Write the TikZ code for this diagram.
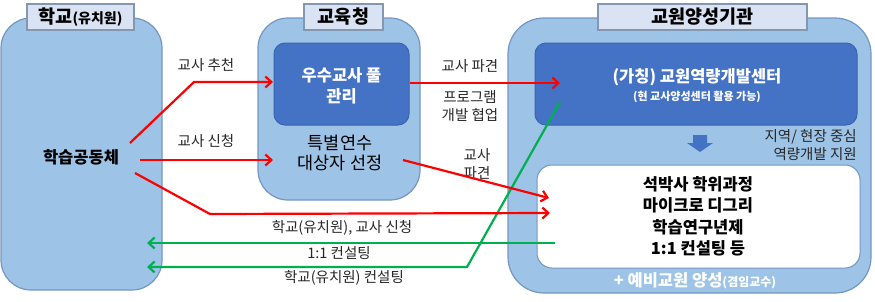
\documentclass[tikz,border=0pt]{standalone}
\usepackage{fontspec}
\setmainfont{Noto Sans CJK KR}
\usetikzlibrary{arrows.meta,calc}
\definecolor{outerblue}{HTML}{9DC3E6}
\definecolor{outerline}{HTML}{7496C2}
\definecolor{titlefill}{HTML}{DAE3F3}
\definecolor{titleline}{HTML}{8497B0}
\definecolor{darkblue}{HTML}{4472C4}
\definecolor{darkline}{HTML}{3A63AE}
\definecolor{redarrow}{HTML}{FF0000}
\definecolor{greenarrow}{HTML}{00B050}
\definecolor{labeltext}{HTML}{262626}
\newcommand{\fs}[1]{\fontsize{#1}{#1}\selectfont}
\tikzset{
  outerbox/.style={draw=outerline, fill=outerblue, line width=1.2pt, rounded corners=30pt, inner sep=0pt},
  titlebox/.style={draw=titleline, fill=titlefill, line width=1.2pt, inner sep=0pt, minimum height=26pt, font=\fs{18.5}\bfseries},
  darkbox/.style={draw=darkline, fill=darkblue, line width=1pt, rounded corners=11pt, inner sep=0pt},
  whitebox/.style={draw=outerline, fill=white, line width=1pt, rounded corners=15pt, inner sep=0pt},
  lbl/.style={text=labeltext, font=\fs{14.5}, inner sep=0pt, align=center},
  redarr/.style={draw=redarrow, line width=2.2pt, -{Straight Barb[length=6pt,width=11pt,line width=2.2pt]}},
  greenarr/.style={draw=greenarrow, line width=2.2pt, -{Straight Barb[length=6pt,width=11pt,line width=2.2pt]}},
}
\begin{document}
\begin{tikzpicture}[x=1pt,y=-1pt]
\useasboundingbox (0,0) rectangle (875,301);
% outer boxes
\node[outerbox, minimum width=161pt, minimum height=272pt] (school) at (81.5,154) {};
\node[outerbox, minimum width=162pt, minimum height=182pt] (office) at (339,109) {};
\node[outerbox, minimum width=363pt, minimum height=275pt, rounded corners=36pt] (inst) at (689.5,155.5) {};
% titles
\node[titlebox, minimum width=107pt] (tschool) at (80.5,17) {학교{\fs{14}(유치원)}};
\node[titlebox, minimum width=79pt] (toffice) at (343.5,17) {교육청};
\node[titlebox, minimum width=209pt] (tinst) at (702.5,17) {교원양성기관};
% inner boxes
\node[darkbox, minimum width=135pt, minimum height=82pt] (pool) at (341.5,84) {};
\node[darkbox, minimum width=322pt, minimum height=82pt] (center) at (696,84) {};
\node[whitebox, minimum width=323pt, minimum height=103pt] (prog) at (698.5,216.5) {};
% texts
\node[font=\fs{16.5}\bfseries, text=black, inner sep=0pt] (lc) at (81,157) {학습공동체};
\node[font=\fs{16.5}\bfseries, text=white, align=center, inner sep=0pt] (pooltxt) at (341.5,86) {우수교사 풀\\[4pt]관리};
\node[font=\fs{17.5}, text=black, align=center, inner sep=0pt] (sel) at (340,153) {특별연수\\[3pt]대상자 선정};
\node[font=\fs{16.5}\bfseries, text=white, inner sep=0pt] (ctxt) at (697,77) {(가칭) 교원역량개발센터};
\node[font=\fs{11}\bfseries, text=white, inner sep=0pt] (csub) at (697,97) {(현 교사양성센터 활용 가능)};
\node[font=\fs{14.5}, text=labeltext, align=right, inner sep=0pt, anchor=east] (regional) at (857,145) {지역/ 현장 중심\\[3pt]역량개발 지원};
\node[font=\fs{16.5}\bfseries, text=black, align=center, inner sep=0pt] (progtxt) at (698,216.5) {석박사 학위과정\\[5pt]마이크로 디그리\\[5pt]학습연구년제\\[5pt]1:1 컨설팅 등};
\node[font=\fs{16.5}\bfseries, text=white, inner sep=0pt] (pre) at (695,281) {+ 예비교원 양성{\fs{12}(겸임교수)}};
% block arrow down
\fill[darkblue] (693,135) -- (707,135) -- (707,143) -- (713,143) -- (700,152) -- (687,143) -- (693,143) -- cycle;
% labels
\node[lbl] (l1) at (206,65) {교사 추천};
\node[lbl] (l2) at (206,141) {교사 신청};
\node[lbl] (l3) at (470,66) {교사 파견};
\node[lbl] (l4) at (470,106) {프로그램\\[3pt]개발 협업};
\node[lbl] (l5) at (477,164) {교사\\[3pt]파견};
\node[lbl] (l6) at (342,228) {학교(유치원), 교사 신청};
\node[lbl] (l7) at (339,253) {1:1 컨설팅};
\node[lbl] (l8) at (344,278) {학교(유치원) 컨설팅};
% coordinates
\coordinate (r1s) at (130,143);
\coordinate (r1b) at (194,82);
\coordinate (r1e) at (273,82);
\coordinate (r2s) at (140,160);
\coordinate (r2e) at (273,160);
\coordinate (r3s) at (135,173);
\coordinate (r3b) at (210,214);
\coordinate (r3e) at (550,213);
\coordinate (r4s) at (403,160);
\coordinate (r4e) at (549,198);
\coordinate (r5e) at (560,83);
\coordinate (g1s) at (555,243);
\coordinate (g1e) at (147,243);
\coordinate (g2s) at (560,102);
\coordinate (g2b) at (467,267);
\coordinate (g2e) at (147,267);
% green arrows
\draw[greenarr] (g1s) -- (g1e);
\draw[greenarr] (g2s) -- (g2b) -- (g2e);
% red arrows
\draw[redarr] (r1s) -- (r1b) -- (r1e);
\draw[redarr] (r2s) -- (r2e);
\draw[redarr] (r3s) -- (r3b) -- (r3e);
\draw[redarr] (r4s) -- (r4e);
\draw[redarr] (pool.east |- r5e) -- (r5e);
\end{tikzpicture}
\end{document}
